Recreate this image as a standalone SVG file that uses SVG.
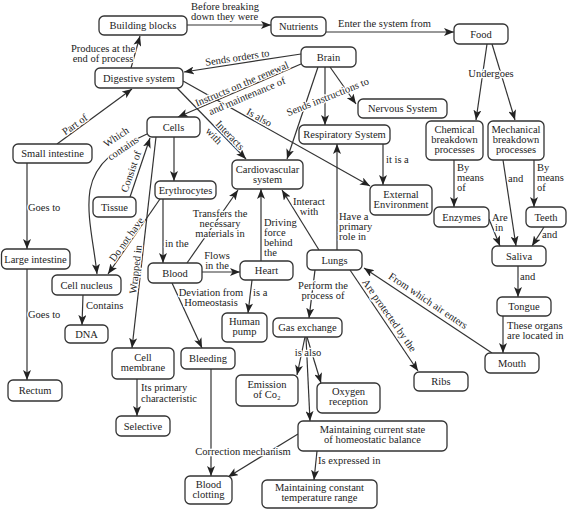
<svg xmlns="http://www.w3.org/2000/svg" width="567" height="511" viewBox="0 0 567 511">
<style>
.n rect{fill:#fff;stroke:#333;stroke-width:1.3}
.n text{font-family:"Liberation Serif",serif;font-size:10.5px;fill:#222;text-anchor:middle}
#edges path{fill:none;stroke:#333;stroke-width:1.2;marker-end:url(#ah)}
.l{font-family:"Liberation Serif",serif;font-size:10.5px;fill:#222;stroke:#fff;stroke-width:2.5;paint-order:stroke;stroke-linejoin:round}
.m{text-anchor:middle}
</style>
<defs>
<marker id="ah" markerUnits="userSpaceOnUse" markerWidth="10" markerHeight="8" refX="10" refY="4" orient="auto">
<path d="M0,0 L10,4 L0,8 L2.5,4 Z" fill="#222"/>
</marker>
</defs>
<rect width="567" height="511" fill="#fff"/>
<g id="edges">
<path d="M187,25 L271,25"/>
<path d="M326,32 L454,32"/>
<path d="M131,68 L140,36"/>
<path d="M57,144 L132,89"/>
<path d="M301,54 L184,72"/>
<path d="M301,64 L178,117"/>
<path d="M177,88 L246,159"/>
<path d="M183,81 L370,186"/>
<path d="M318,67 L287,159"/>
<path d="M325,67 L325,125"/>
<path d="M330,67 L356,104"/>
<path d="M383,144 L383,185"/>
<path d="M487,44 L476,120"/>
<path d="M492,44 L515,120"/>
<path d="M454,160 L454,207"/>
<path d="M534,160 L534,207"/>
<path d="M503,160 L516,246"/>
<path d="M489,219 L500,246"/>
<path d="M544,227 L532,246"/>
<path d="M518,266 L518,297"/>
<path d="M503,316 L503,353"/>
<path d="M492,353 L364,268"/>
<path d="M350,270 L418,371"/>
<path d="M337,250 L337,144"/>
<path d="M319,250 L282,190"/>
<path d="M315,270 L309,318"/>
<path d="M261,261 L261,189"/>
<path d="M252,280 L248,313"/>
<path d="M202,272 L240,272"/>
<path d="M187,263 L238,190"/>
<path d="M163,199 L163,263"/>
<path d="M160,199 L108,274"/>
<path d="M174,137 L174,181"/>
<path d="M156,137 L132,348"/>
<path d="M130,197 L150,138"/>
<path d="M147,134 C118,147 95,162 90,190 C86,215 94,245 97,274"/>
<path d="M83,295 L82,325"/>
<path d="M27,163 L27,249"/>
<path d="M27,269 L27,380"/>
<path d="M137,379 L137,416"/>
<path d="M172,283 L202,348"/>
<path d="M211,369 L211,476"/>
<path d="M298,434 L228,477"/>
<path d="M305,337 L297,375"/>
<path d="M306,337 L310,421"/>
<path d="M307,337 L321,383"/>
<path d="M317,451 L314,480"/>
</g>
<g id="labels">
<text class="l" x="191" y="10">Before breaking</text>
<text class="l" x="191" y="20">down they were</text>
<text class="l" x="338" y="27">Enter the system from</text>
<text class="l m" x="103" y="52">Produces at the</text>
<text class="l m" x="103" y="62">end of process</text>
<text class="l m" transform="translate(78,129) rotate(-35.4)" y="-2">Part of</text>
<text class="l m" transform="translate(238,63) rotate(-8.4)" y="-2">Sends orders to</text>
<text class="l m" transform="translate(244,89) rotate(-22.9)" y="-2">Instructs on the renewal</text>
<text class="l m" transform="translate(244,89) rotate(-22.9)" y="11">and maintenance of</text>
<text class="l m" transform="translate(226,139) rotate(46)" y="-2">Interacts</text>
<text class="l" transform="translate(226,139) rotate(46)" x="-20" y="10">with</text>
<text class="l m" transform="translate(256,123) rotate(29.3)" y="-3">Is also</text>
<text class="l m" transform="translate(329,100) rotate(-21.7)">Sends instructions to</text>
<text class="l m" x="491" y="77">Undergoes</text>
<text class="l" x="386" y="163">it is a</text>
<text class="l" x="457" y="170.5">By</text>
<text class="l" x="457" y="180.5">means</text>
<text class="l" x="457" y="190.5">of</text>
<text class="l" x="537" y="170.5">By</text>
<text class="l" x="537" y="180.5">means</text>
<text class="l" x="537" y="190.5">of</text>
<text class="l" x="508" y="182">and</text>
<text class="l" x="492" y="220.5">Are</text>
<text class="l" x="495" y="230.5">in</text>
<text class="l" x="542" y="238">and</text>
<text class="l" x="520" y="280">and</text>
<text class="l" x="507" y="328.5">These organs</text>
<text class="l" x="507" y="338.5">are located in</text>
<text class="l m" transform="translate(424,307) rotate(33.8)" y="-4">From which air enters</text>
<text class="l m" transform="translate(384,319) rotate(55.1)" y="-3">Are protected by the</text>
<text class="l" x="339" y="219.5">Have a</text>
<text class="l" x="339" y="229.5">primary</text>
<text class="l" x="339" y="239.5">role in</text>
<text class="l m" x="309" y="205">Interact</text>
<text class="l m" x="309" y="215">with</text>
<text class="l" x="264" y="225.5">Driving</text>
<text class="l" x="264" y="235.5">force</text>
<text class="l" x="264" y="245.5">behind</text>
<text class="l" x="264" y="255.5">the</text>
<text class="l m" x="323" y="289">Perform the</text>
<text class="l m" x="323" y="299">process of</text>
<text class="l" x="253" y="296">is a</text>
<text class="l m" x="217" y="259">Flows</text>
<text class="l m" x="217" y="269">in the</text>
<text class="l m" x="220" y="216.5">Transfers the</text>
<text class="l m" x="220" y="226.5">necessary</text>
<text class="l m" x="220" y="236.5">materials in</text>
<text class="l" x="165" y="247">in the</text>
<text class="l m" transform="translate(118,140) rotate(-34)">Which</text>
<text class="l m" transform="translate(125,151) rotate(-34)">contains</text>
<text class="l m" transform="translate(138,174) rotate(-70.7)" y="-4">Consist of</text>
<text class="l m" transform="translate(130,242) rotate(-54.5)" y="-1">Do not have</text>
<text class="l m" transform="translate(141,270) rotate(-83.5)" y="-2">Wrapped in</text>
<text class="l" x="86" y="309">Contains</text>
<text class="l" x="28" y="211">Goes to</text>
<text class="l" x="28" y="318">Goes to</text>
<text class="l" x="141" y="391">Its primary</text>
<text class="l" x="141" y="401.5">characteristic</text>
<text class="l m" x="211" y="295.5">Deviation from</text>
<text class="l m" x="211" y="305.5">Homeostasis</text>
<text class="l m" x="308" y="355.5">is also</text>
<text class="l m" x="243" y="455">Correction mechanism</text>
<text class="l" x="318" y="463.5">Is expressed in</text>
</g>
<g id="n-building" class="n"><rect x="99" y="16" width="88" height="19" rx="5"/><text x="143" y="29">Building blocks</text></g>
<g id="n-nutrients" class="n"><rect x="271" y="17" width="55" height="19" rx="5"/><text x="298.5" y="30">Nutrients</text></g>
<g id="n-food" class="n"><rect x="454" y="24" width="54" height="20" rx="5"/><text x="481" y="37.5">Food</text></g>
<g id="n-digestive" class="n"><rect x="95" y="68" width="88" height="20" rx="5"/><text x="139" y="81.5">Digestive system</text></g>
<g id="n-brain" class="n"><rect x="301" y="47" width="55" height="20" rx="5"/><text x="328.5" y="60.5">Brain</text></g>
<g id="n-nervous" class="n"><rect x="358" y="99" width="89" height="19" rx="5"/><text x="402.5" y="112">Nervous System</text></g>
<g id="n-cells" class="n"><rect x="147" y="117" width="53" height="20" rx="5"/><text x="173.5" y="130.5">Cells</text></g>
<g id="n-small" class="n"><rect x="13" y="144" width="79" height="19" rx="5"/><text x="52.5" y="157">Small intestine</text></g>
<g id="n-respiratory" class="n"><rect x="299" y="125" width="91" height="19" rx="5"/><text x="344.5" y="138">Respiratory System</text></g>
<g id="n-chemical" class="n"><rect x="426" y="121" width="57" height="39" rx="5"/><text x="454.5" y="132.5">Chemical</text><text x="454.5" y="142.5">breakdown</text><text x="454.5" y="152.5">processes</text></g>
<g id="n-mechanical" class="n"><rect x="488" y="121" width="56" height="39" rx="5"/><text x="516" y="132.5">Mechanical</text><text x="516" y="142.5">breakdown</text><text x="516" y="152.5">processes</text></g>
<g id="n-cardio" class="n"><rect x="232" y="160" width="71" height="29" rx="5"/><text x="267.5" y="172.5">Cardiovascular</text><text x="267.5" y="182.5">system</text></g>
<g id="n-erythro" class="n"><rect x="155" y="181" width="61" height="18" rx="5"/><text x="185.5" y="193.5">Erythrocytes</text></g>
<g id="n-external" class="n"><rect x="370" y="185" width="62" height="30" rx="5"/><text x="401" y="197.5">External</text><text x="401" y="207.5">Environment</text></g>
<g id="n-tissue" class="n"><rect x="93" y="197" width="43" height="20" rx="5"/><text x="114.5" y="210.5">Tissue</text></g>
<g id="n-enzymes" class="n"><rect x="434" y="207" width="55" height="20" rx="5"/><text x="461.5" y="220.5">Enzymes</text></g>
<g id="n-teeth" class="n"><rect x="526" y="207" width="40" height="20" rx="5"/><text x="546" y="220.5">Teeth</text></g>
<g id="n-saliva" class="n"><rect x="492" y="246" width="54" height="20" rx="5"/><text x="519" y="259.5">Saliva</text></g>
<g id="n-large" class="n"><rect x="1.5" y="249" width="68.5" height="20" rx="5"/><text x="35.5" y="262.5">Large intestine</text></g>
<g id="n-lungs" class="n"><rect x="307" y="250" width="55" height="20" rx="5"/><text x="334.5" y="263.5">Lungs</text></g>
<g id="n-heart" class="n"><rect x="240" y="261" width="53" height="19" rx="5"/><text x="266.5" y="274">Heart</text></g>
<g id="n-blood" class="n"><rect x="148" y="263" width="54" height="20" rx="5"/><text x="175" y="276.5">Blood</text></g>
<g id="n-nucleus" class="n"><rect x="52" y="275" width="69" height="20" rx="5"/><text x="86.5" y="288.5">Cell nucleus</text></g>
<g id="n-tongue" class="n"><rect x="497" y="297" width="54" height="19" rx="5"/><text x="524" y="310">Tongue</text></g>
<g id="n-humanpump" class="n"><rect x="222" y="313" width="45" height="29" rx="5"/><text x="244.5" y="325">Human</text><text x="244.5" y="335">pump</text></g>
<g id="n-gas" class="n"><rect x="273" y="318" width="69" height="19" rx="5"/><text x="307.5" y="331">Gas exchange</text></g>
<g id="n-dna" class="n"><rect x="65" y="325" width="43" height="18" rx="5"/><text x="86.5" y="337.5">DNA</text></g>
<g id="n-bleeding" class="n"><rect x="181" y="348" width="54" height="21" rx="5"/><text x="208" y="362">Bleeding</text></g>
<g id="n-membrane" class="n"><rect x="112" y="348" width="62" height="31" rx="5"/><text x="143" y="361">Cell</text><text x="143" y="371">membrane</text></g>
<g id="n-mouth" class="n"><rect x="485" y="353" width="54" height="20" rx="5"/><text x="512" y="366.5">Mouth</text></g>
<g id="n-ribs" class="n"><rect x="414" y="372" width="54" height="19" rx="5"/><text x="441" y="385">Ribs</text></g>
<g id="n-emission" class="n"><rect x="236" y="375" width="62" height="31" rx="5"/><text x="267" y="388">Emission</text><text x="267" y="398">of Co₂</text></g>
<g id="n-rectum" class="n"><rect x="8" y="380" width="54" height="21" rx="5"/><text x="35" y="394">Rectum</text></g>
<g id="n-oxygen" class="n"><rect x="317" y="383" width="63" height="30" rx="5"/><text x="348.5" y="395">Oxygen</text><text x="348.5" y="405">reception</text></g>
<g id="n-selective" class="n"><rect x="116" y="416" width="54" height="20" rx="5"/><text x="143" y="429.5">Selective</text></g>
<g id="n-homeostatic" class="n"><rect x="298" y="421" width="149" height="30" rx="5"/><text x="372.5" y="433">Maintaining current state</text><text x="372.5" y="443">of homeostatic balance</text></g>
<g id="n-clotting" class="n"><rect x="185" y="476" width="47" height="28" rx="5"/><text x="208.5" y="488">Blood</text><text x="208.5" y="498">clotting</text></g>
<g id="n-temperature" class="n"><rect x="262" y="480" width="115" height="28" rx="5"/><text x="319.5" y="490.5">Maintaining constant</text><text x="319.5" y="500.5">temperature range</text></g>
</svg>
